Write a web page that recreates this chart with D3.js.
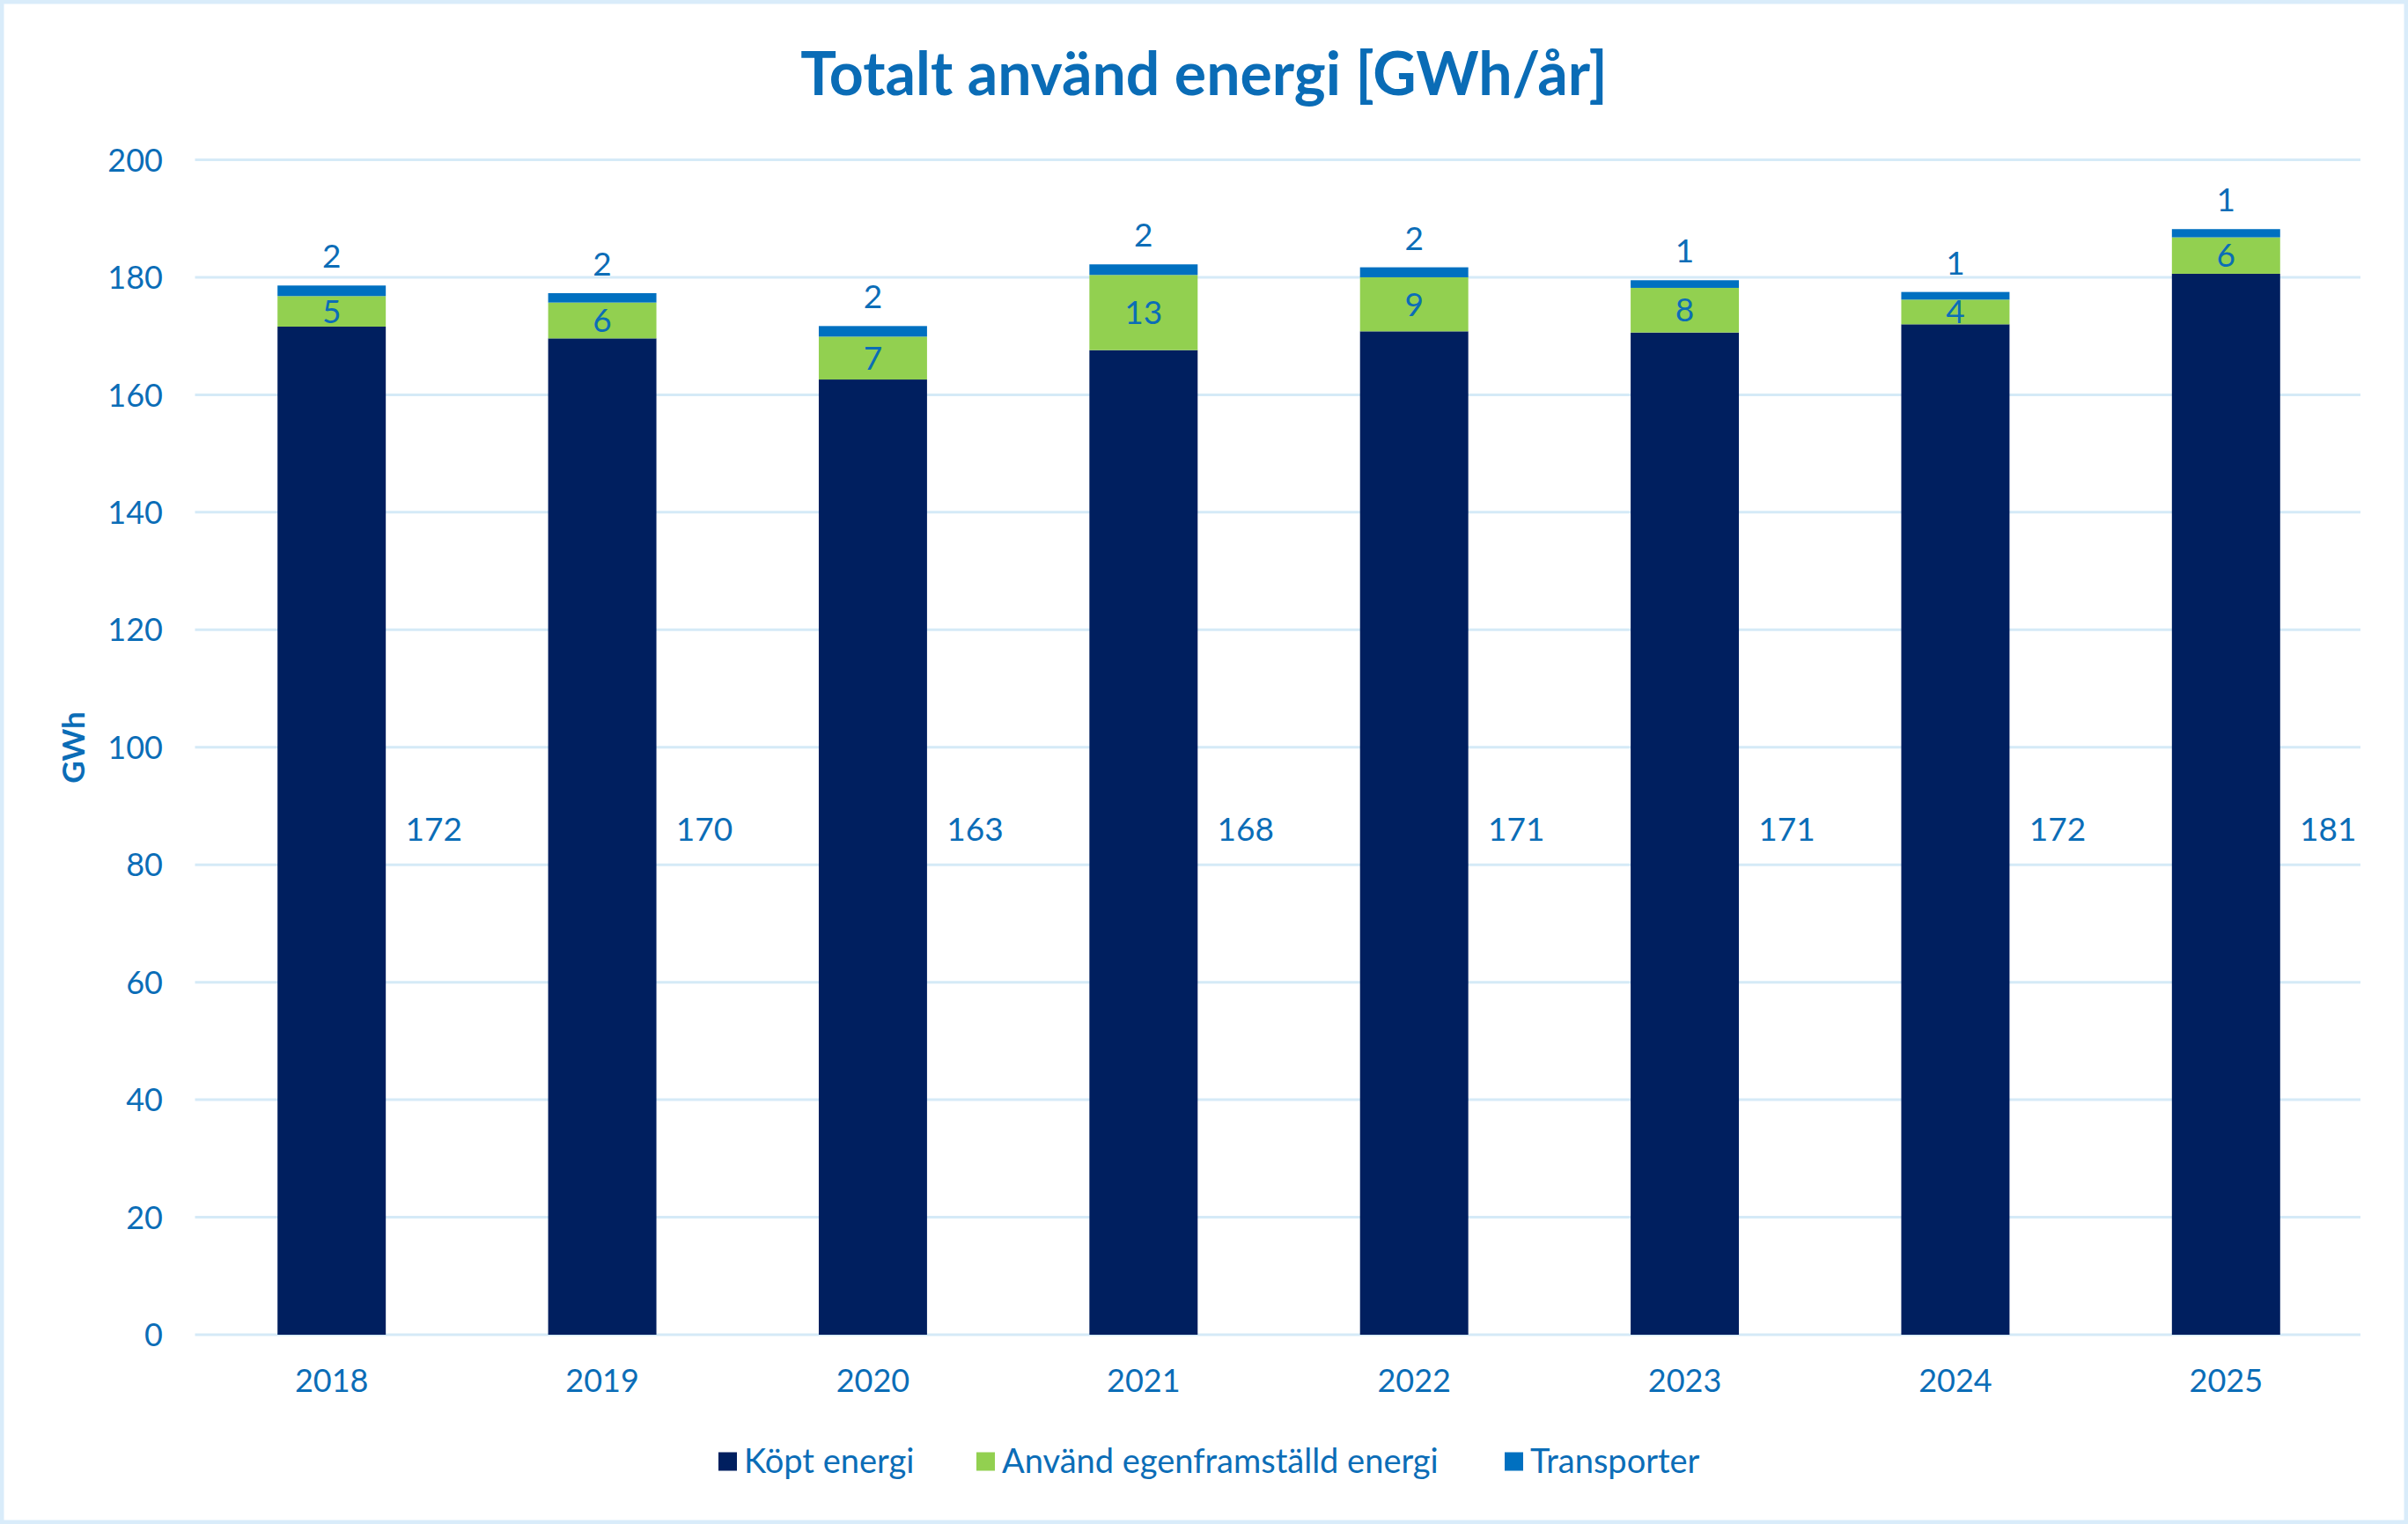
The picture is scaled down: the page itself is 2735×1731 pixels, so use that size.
<!DOCTYPE html>
<html>
<head>
<meta charset="utf-8">
<script src="https://cdn.jsdelivr.net/npm/d3@7"></script>
<style>
  html, body { margin: 0; padding: 0; background: #ffffff; }
  svg { display: block; }
  text { font-family: Lato, "Open Sans", sans-serif; }
</style>
</head>
<body>
<svg id="chart" width="2735" height="1731"></svg>
<script>
// ---- data ----
const years = ["2018", "2019", "2020", "2021", "2022", "2023", "2024", "2025"];
const kopt = [171.6, 169.6, 162.6, 167.6, 170.8, 170.6, 172.0, 180.6];
const egen = [5.2, 6.1, 7.3, 12.8, 9.2, 7.6, 4.2, 6.2];
const transport = [1.8, 1.6, 1.8, 1.8, 1.7, 1.3, 1.3, 1.4];
const seriesNames = ["Köpt energi", "Använd egenframställd energi", "Transporter"];
const yTicks = [0, 20, 40, 60, 80, 100, 120, 140, 160, 180, 200];
const title = "Totalt använd energi [GWh/år]";
const yTitle = "GWh";

// ---- style ----
const W = 2735, H = 1731;
const colors = ["#001F5F", "#92D050", "#0070C0"];
const textColor = "#0B6DB7";
const gridColor = "#D5EAF7";

const svg = d3.select("#chart");

svg.append("rect").attr("x", 2).attr("y", 2).attr("width", W - 4).attr("height", H - 4)
  .attr("fill", "#ffffff").attr("stroke", "#D9ECFA").attr("stroke-width", 5);

const x = d3.scaleBand().domain(years).range([223, 2682]).paddingInner(0.6).paddingOuter(0.3);
const y = d3.scaleLinear().domain([0, 200]).range([1516, 181.5]);

// gridlines
svg.append("g").selectAll("line").data(yTicks).join("line")
  .attr("x1", 221.5).attr("x2", 2681)
  .attr("y1", d => y(d)).attr("y2", d => y(d))
  .attr("stroke", gridColor).attr("stroke-width", 3);

// y axis labels
const yAxis = d3.axisLeft(y).tickValues(yTicks).tickSize(0).tickPadding(0);
const yg = svg.append("g").attr("transform", "translate(185,0)").call(yAxis);
yg.select(".domain").remove();
yg.selectAll("text").attr("fill", textColor).attr("font-size", 36).attr("font-family", "Lato").attr("dy", "0.35em");

// x axis labels
const xAxis = d3.axisBottom(x).tickSize(0).tickPadding(0);
const xg = svg.append("g").attr("transform", "translate(0,1568)").call(xAxis);
xg.select(".domain").remove();
xg.selectAll("text").attr("fill", textColor).attr("font-size", 36).attr("font-family", "Lato").attr("dy", "0.35em");

// stacked data
const rows = years.map((yr, i) => ({ year: yr, k: kopt[i], e: egen[i], t: transport[i] }));
const stack = d3.stack().keys(["k", "e", "t"])(rows);

const layers = svg.append("g").selectAll("g").data(stack).join("g")
  .attr("fill", (d, i) => colors[i]);
layers.selectAll("rect").data(d => d).join("rect")
  .attr("x", d => x(d.data.year))
  .attr("width", x.bandwidth())
  .attr("y", d => y(d[1]))
  .attr("height", d => y(d[0]) - y(d[1]));

// labels: köpt energi (to the right of bar)
svg.append("g").selectAll("text").data(rows).join("text")
  .attr("x", d => x(d.year) + x.bandwidth() / 2 + 116)
  .attr("y", y(86))
  .attr("dy", "0.35em")
  .attr("text-anchor", "middle")
  .attr("fill", textColor).attr("font-size", 37)
  .text(d => Math.round(d.k));

// labels: egen (centered in segment)
svg.append("g").selectAll("text").data(rows).join("text")
  .attr("x", d => x(d.year) + x.bandwidth() / 2)
  .attr("y", d => y(d.k + d.e / 2))
  .attr("dy", "0.35em")
  .attr("text-anchor", "middle")
  .attr("fill", textColor).attr("font-size", 37)
  .text(d => Math.round(d.e));

// labels: transport (above bar)
svg.append("g").selectAll("text").data(rows).join("text")
  .attr("x", d => x(d.year) + x.bandwidth() / 2)
  .attr("y", d => y(d.k + d.e + d.t) - 33)
  .attr("dy", "0.35em")
  .attr("text-anchor", "middle")
  .attr("fill", textColor).attr("font-size", 37)
  .text(d => Math.round(d.t));

// title
svg.append("text").attr("x", W / 2).attr("y", 108)
  .attr("text-anchor", "middle").attr("fill", "#0A6CB6")
  .attr("font-size", 68).attr("font-weight", 700)
  .text(title);

// y title
svg.append("text").attr("transform", "translate(84,849) rotate(-90)")
  .attr("text-anchor", "middle").attr("dy", "0.35em")
  .attr("fill", textColor).attr("font-size", 35).attr("font-weight", 700)
  .text(yTitle);

// legend
const legendX = [816, 1109, 1709];
const lg = svg.append("g").selectAll("g").data(seriesNames).join("g")
  .attr("transform", (d, i) => `translate(${legendX[i]},1660)`);
lg.append("rect").attr("x", 0).attr("y", -10.5).attr("width", 21).attr("height", 21)
  .attr("fill", (d, i) => colors[i]);
lg.append("text").attr("x", 29).attr("dy", "0.35em")
  .attr("fill", textColor).attr("font-size", 38)
  .text(d => d);
</script>
</body>
</html>
